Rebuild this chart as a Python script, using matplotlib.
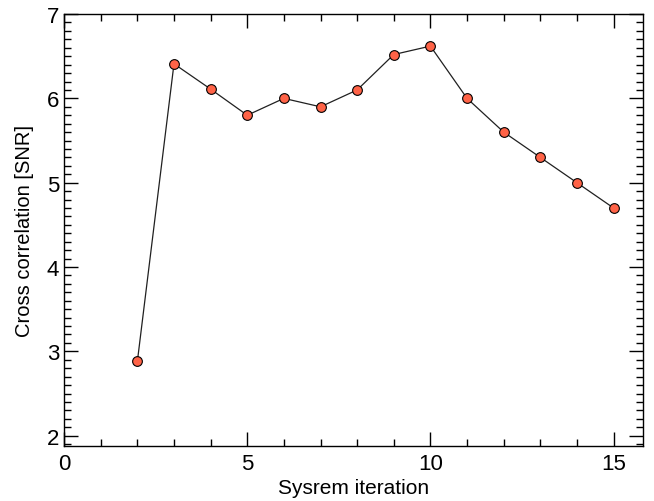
import matplotlib
matplotlib.use("Agg")
import matplotlib.pyplot as plt
from matplotlib.ticker import MultipleLocator

plt.rcParams['font.family'] = ['Liberation Sans', 'DejaVu Sans']

iteration = [2, 3, 4, 5, 6, 7, 8, 9, 10, 11, 12, 13, 14, 15]
snr = [2.88, 6.41, 6.11, 5.80, 6.00, 5.90, 6.10, 6.52, 6.62, 6.00, 5.60, 5.30, 5.00, 4.70]

fig = plt.figure(figsize=(6.54, 5.02), dpi=100)
ax = fig.add_axes([0.098, 0.11, 0.885, 0.86])

ax.plot(iteration, snr, color='#202020', lw=0.9, marker='o', ms=7,
        mfc='#ff6347', mec='black', mew=0.8)

ax.set_xlim(0, 15.8)
ax.set_ylim(1.88, 7)
ax.xaxis.set_major_locator(MultipleLocator(5))
ax.xaxis.set_minor_locator(MultipleLocator(1))
ax.yaxis.set_major_locator(MultipleLocator(1))
ax.yaxis.set_minor_locator(MultipleLocator(0.1))
ax.tick_params(which='both', direction='in', top=True, right=True, labelsize=16, width=1)
ax.tick_params(which='major', length=10)
ax.tick_params(which='minor', length=5)
ax.tick_params(axis='x', pad=5)
for s in ax.spines.values():
    s.set_linewidth(1)

ax.set_xlabel('Sysrem iteration', fontsize=15, labelpad=3)
ax.set_ylabel('Cross correlation [SNR]', fontsize=14.5, labelpad=9)

fig.savefig('out.png', dpi=100)
